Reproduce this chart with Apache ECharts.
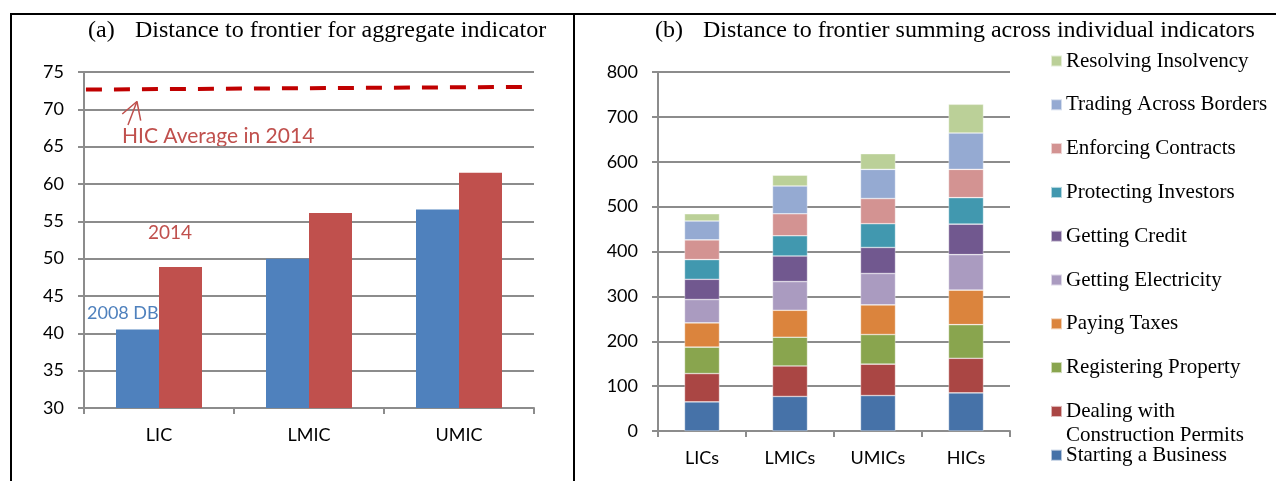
<!DOCTYPE html>
<html>
<head>
<meta charset="utf-8">
<script src="https://cdn.jsdelivr.net/npm/echarts@6/dist/echarts.min.js"></script>
<style>
html,body{margin:0;padding:0;background:#fff;}
#chart{width:1276px;height:481px;}
</style>
</head>
<body>
<div id="chart"></div>
<script>
// ---- Panel (a) data ----
var incomeGroups = ['LIC', 'LMIC', 'UMIC'];
var dtf2008 = [40.5, 50.0, 56.6];
var dtf2014 = [48.9, 56.1, 61.5];
var hicLineX = [0.013, 2.92];
var hicLineY = [72.65, 73.0];
var arrowShaftX = [0.293, 0.353];
var arrowShaftY = [67.9, 71.05];
var arrowHeadX = [0.255, 0.353, 0.378];
var arrowHeadY = [69.37, 71.05, 68.5];
var leftTicks = [30, 75, 5];

// ---- Panel (b) data ----
var groupsB = ['LICs', 'LMICs', 'UMICs', 'HICs'];
var startingBusiness = [65, 77, 79, 85];
var constructionPermits = [63, 68, 70, 77];
var registeringProperty = [59, 64, 66, 75];
var payingTaxes = [54, 60, 66, 77];
var gettingElectricity = [52, 64, 70, 79];
var gettingCredit = [45, 57, 58, 68];
var protectingInvestors = [44, 45, 53, 59];
var enforcingContracts = [44, 49, 56, 63];
var tradingAcrossBorders = [42, 62, 65, 81];
var resolvingInsolvency = [16, 24, 35, 64];
var rightTicks = [0, 800, 100];

var indicatorNames = ['Starting a Business', 'Dealing with Construction Permits', 'Registering Property',
  'Paying Taxes', 'Getting Electricity', 'Getting Credit', 'Protecting Investors',
  'Enforcing Contracts', 'Trading Across Borders', 'Resolving Insolvency'];
var indicatorValues = [startingBusiness, constructionPermits, registeringProperty, payingTaxes,
  gettingElectricity, gettingCredit, protectingInvestors, enforcingContracts,
  tradingAcrossBorders, resolvingInsolvency];
var indicatorColors = ['#4672A8', '#AA4644', '#89A54E', '#DB843D', '#AA9BC0',
  '#71588F', '#4198AF', '#D39392', '#95AAD2', '#BBD098'];

var gridGray = '#8c8c8c';
var sans = 'Lato';
var serif = '"Liberation Serif", "Times New Roman", serif';

var chart = echarts.init(document.getElementById('chart'), null, {renderer: 'canvas'});

var series = [
  {type: 'bar', name: '2008 DB', xAxisIndex: 0, yAxisIndex: 0, data: dtf2008,
   barWidth: 43, barGap: '0%', itemStyle: {color: '#4F81BD'}},
  {type: 'bar', name: '2014', xAxisIndex: 0, yAxisIndex: 0, data: dtf2014,
   barWidth: 43, barGap: '0%', itemStyle: {color: '#C0504D'}},
  {type: 'line', name: 'HIC', xAxisIndex: 1, yAxisIndex: 0, symbol: 'none',
   data: hicLineX.map(function (x, i) { return [x, hicLineY[i]]; }),
   lineStyle: {color: '#C00000', width: 4, type: [16, 12]}},
  {type: 'line', name: 'arrowShaft', xAxisIndex: 1, yAxisIndex: 0, symbol: 'none',
   data: arrowShaftX.map(function (x, i) { return [x, arrowShaftY[i]]; }),
   lineStyle: {color: '#C0504D', width: 1.5}},
  {type: 'line', name: 'arrowHead', xAxisIndex: 1, yAxisIndex: 0, symbol: 'none',
   data: arrowHeadX.map(function (x, i) { return [x, arrowHeadY[i]]; }),
   lineStyle: {color: '#C0504D', width: 1.5}}
];

indicatorNames.forEach(function (n, i) {
  series.push({
    type: 'bar', name: n, stack: 'total', xAxisIndex: 2, yAxisIndex: 1,
    data: indicatorValues[i], barWidth: 35,
    itemStyle: {color: indicatorColors[i], borderColor: 'rgba(255,255,255,0.6)', borderWidth: 0.6}
  });
});

var valueAxisCommon = {
  type: 'value',
  axisLine: {show: true, lineStyle: {color: gridGray, width: 2}},
  axisTick: {show: true, length: 6, lineStyle: {color: gridGray, width: 2}},
  splitLine: {show: true, lineStyle: {color: gridGray, width: 2}},
  axisLabel: {color: '#000', fontFamily: sans, fontSize: 18, margin: 20}
};
var catAxisCommon = {
  type: 'category',
  axisLine: {show: true, lineStyle: {color: gridGray, width: 2}},
  axisTick: {show: true, length: 6, lineStyle: {color: gridGray, width: 2}},
  axisLabel: {color: '#000', fontFamily: sans, fontSize: 18, margin: 18}
};

var option = {
  animation: false,
  backgroundColor: '#fff',
  grid: [
    {left: 84, top: 72, width: 450, height: 336},
    {left: 658, top: 72, width: 352, height: 359}
  ],
  xAxis: [
    Object.assign({}, catAxisCommon, {gridIndex: 0, data: incomeGroups}),
    {type: 'value', gridIndex: 0, min: 0, max: 3, show: false},
    Object.assign({}, catAxisCommon, {gridIndex: 1, data: groupsB})
  ],
  yAxis: [
    Object.assign({}, valueAxisCommon, {gridIndex: 0, min: leftTicks[0], max: leftTicks[1], interval: leftTicks[2]}),
    Object.assign({}, valueAxisCommon, {gridIndex: 1, min: rightTicks[0], max: rightTicks[1], interval: rightTicks[2]})
  ],
  legend: {
    orient: 'vertical', left: 1050, top: 50, padding: 0,
    data: indicatorNames.slice().reverse(),
    icon: 'rect', itemWidth: 11, itemHeight: 11, itemGap: 21.8,
    textStyle: {fontFamily: serif, fontSize: 21, color: '#000', lineHeight: 22, padding: [0, 0, 0, -1]},
    formatter: function (n) { return n === 'Dealing with Construction Permits' ? 'Dealing with' : n; },
    selectedMode: false
  },
  graphic: [
    {type: 'line', shape: {x1: 10, y1: 14, x2: 1276, y2: 14}, style: {stroke: '#000', lineWidth: 2}},
    {type: 'line', shape: {x1: 11, y1: 14, x2: 11, y2: 481}, style: {stroke: '#000', lineWidth: 2}},
    {type: 'line', shape: {x1: 574, y1: 14, x2: 574, y2: 481}, style: {stroke: '#000', lineWidth: 2}},
    {type: 'text', left: 88, top: 19, style: {text: '(a)', font: '24px ' + serif, fill: '#000'}},
    {type: 'text', left: 135, top: 19, style: {text: 'Distance to frontier for aggregate indicator', font: '24px ' + serif, fill: '#000'}},
    {type: 'text', left: 655, top: 19, style: {text: '(b)', font: '24px ' + serif, fill: '#000'}},
    {type: 'text', left: 703, top: 19, style: {text: 'Distance to frontier summing across individual indicators', font: '24px ' + serif, fill: '#000'}},
    {type: 'text', left: 122, top: 126, style: {text: 'HIC Average in 2014', font: '21px ' + sans, fill: '#C0504D'}},
    {type: 'text', left: 148, top: 223, style: {text: '2014', font: '19px ' + sans, fill: '#C0504D'}},
    {type: 'text', left: 87, top: 304, style: {text: '2008 DB', font: '18px ' + sans, fill: '#4F81BD'}},
    {type: 'text', left: 1066, top: 425, style: {text: 'Construction Permits', font: '21px ' + serif, fill: '#000'}}
  ],
  series: series
};
chart.setOption(option);
</script>
</body>
</html>
